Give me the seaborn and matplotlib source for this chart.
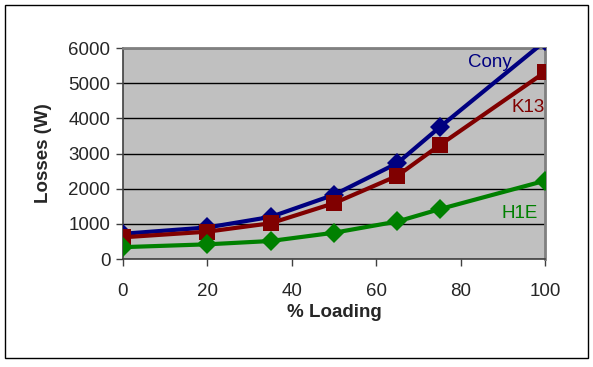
import numpy as np
import pandas as pd
import matplotlib.pyplot as plt
import seaborn as sns
from matplotlib.patches import Rectangle

# data
loading = [0, 20, 35, 50, 65, 75, 100]
conv = [720, 900, 1200, 1830, 2730, 3750, 6200]
k13 = [620, 780, 1020, 1590, 2370, 3240, 5320]
h1e = [340, 420, 515, 750, 1070, 1420, 2230]
series = ["Conv", "K13", "H1E"]
colors = {"Conv": "#000080", "K13": "#800000", "H1E": "#008000"}
markers = {"Conv": "D", "K13": "s", "H1E": "D"}

df = pd.DataFrame({
    "loading": loading * 3,
    "losses": conv + k13 + h1e,
    "series": [s for s in series for _ in loading],
})

sns.set_theme(style="ticks")
plt.rcParams["font.family"] = ["Liberation Sans", "DejaVu Sans"]

fig = plt.figure(figsize=(5.93, 3.67), dpi=100)
ax = fig.add_axes([0.2074, 0.294, 0.712, 0.575])
ax.set_facecolor("#C0C0C0")

sns.lineplot(data=df, x="loading", y="losses", hue="series", style="series",
             palette=colors, markers=markers, dashes=False, linewidth=3,
             markersize=10, markeredgewidth=0, legend=False, ax=ax)
# square markers a bit bigger
for line in ax.get_lines():
    if line.get_marker() == "s":
        line.set_markersize(12)
    line.set_zorder(3)

ax.set_xlim(0, 100)
ax.set_ylim(0, 6000)
ax.set_xticks([0, 20, 40, 60, 80, 100])
ax.set_yticks(range(0, 7000, 1000))
ax.yaxis.grid(True, color="black", linewidth=1)
ax.set_axisbelow(True)
for sp in ax.spines.values():
    sp.set_color("#808080")
    sp.set_linewidth(2)
ax.spines["left"].set_linewidth(1.2)
ax.spines["bottom"].set_linewidth(1.2)
ax.spines["left"].set_color("#404040")
ax.spines["bottom"].set_color("#404040")
ax.tick_params(axis="both", labelsize=13.5, length=5, width=1, color="#404040", pad=4)
ax.tick_params(axis="x", pad=12)

ax.set_xlabel("% Loading", fontsize=13.5, fontweight="bold", labelpad=3)
ax.set_ylabel("Losses (W)", fontsize=13.5, fontweight="bold", labelpad=12)

ax.text(87, 5600, "Cony", color=colors["Conv"], fontsize=13.5, ha="center", va="center")
ax.text(96, 4300, "K13", color=colors["K13"], fontsize=13.5, ha="center", va="center")
ax.text(94, 1310, "H1E", color=colors["H1E"], fontsize=13.5, ha="center", va="center")

fig.patches.append(Rectangle((5 / 593, 1 - 358 / 367), 583 / 593, 353 / 367,
                             transform=fig.transFigure, fill=False,
                             edgecolor="black", linewidth=1))

fig.savefig("out.png", dpi=100)
